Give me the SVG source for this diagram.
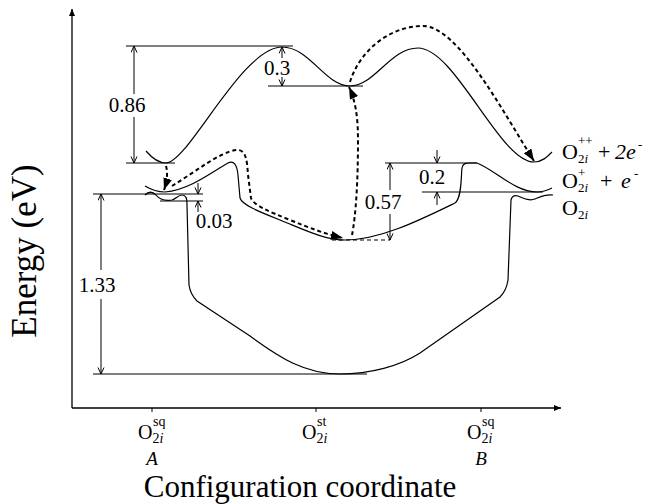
<svg xmlns="http://www.w3.org/2000/svg" width="650" height="504" viewBox="0 0 650 504">
<defs>
<style>
.c{fill:none;stroke:#000;stroke-width:1.2}
.d{fill:none;stroke:#000;stroke-width:1}
.t{fill:none;stroke:#000;stroke-width:2;stroke-dasharray:4 3}
.ax{fill:none;stroke:#000;stroke-width:1.3}
text{font-family:"Liberation Serif","Times New Roman",serif;fill:#000}
.lbl{font-size:21px}
.big{font-size:31px}
.ey{font-size:35px}
.st{font-size:22px}
.ss{font-size:13px}
.bt{font-size:20px}
.bs{font-size:14px}
.ab{font-size:19px;font-style:italic}
.it{font-style:italic}
</style>
<marker id="open" markerUnits="userSpaceOnUse" markerWidth="8" markerHeight="8" refX="7" refY="3.5" orient="auto">
<path d="M0.5,0.5 L7,3.5 L0.5,6.5" fill="none" stroke="#000" stroke-width="1"/>
</marker>
<marker id="solid" markerUnits="userSpaceOnUse" markerWidth="14" markerHeight="10" refX="12" refY="4.5" orient="auto">
<path d="M0,0 L12,4.5 L0,9 z" fill="#000"/>
</marker>
<marker id="axh" markerUnits="userSpaceOnUse" markerWidth="8" markerHeight="6" refX="7" refY="3" orient="auto">
<path d="M0,0 L7,3 L0,6 z" fill="#000"/>
</marker>
</defs>
<rect width="650" height="504" fill="#fff"/>

<g id="axes">
<line class="ax" x1="72" y1="408" x2="72" y2="9" marker-end="url(#axh)"/>
<line class="ax" x1="72" y1="408" x2="561" y2="408" marker-end="url(#axh)"/>
<line class="d" x1="152" y1="408" x2="152" y2="412"/>
<line class="d" x1="316" y1="408" x2="316" y2="412"/>
<line class="d" x1="481" y1="408" x2="481" y2="412"/>
<text class="ey" transform="translate(36,251) rotate(-90)" text-anchor="middle">Energy (eV)</text>
<text class="big" x="300" y="497" text-anchor="middle">Configuration coordinate</text>
</g>

<g id="tick-A">
<text class="bt" x="138" y="439">O</text>
<text class="bs" x="152.5" y="443">2<tspan class="it">i</tspan></text>
<text class="bs" x="153" y="426">sq</text>
<text class="ab" x="152" y="465" text-anchor="middle">A</text>
</g>
<g id="tick-st">
<text class="bt" x="302" y="439">O</text>
<text class="bs" x="316.5" y="443">2<tspan class="it">i</tspan></text>
<text class="bs" x="317" y="426">st</text>
</g>
<g id="tick-B">
<text class="bt" x="467" y="439">O</text>
<text class="bs" x="481.5" y="443">2<tspan class="it">i</tspan></text>
<text class="bs" x="482" y="426">sq</text>
<text class="ab" x="481" y="465" text-anchor="middle">B</text>
</g>

<g id="curve-O2i-pp">
<path class="c" d="M146,151 C152,158 158,163 166,163 C188,163 242,47 282,47 C310,47 325,86 350,86 C375,86 390,48 418,48 C455,48 500,162 534,162 C542,162 547,157 552,152"/>
<text class="st" x="562" y="159">O</text>
<text class="ss" x="578" y="163">2<tspan class="it">i</tspan></text>
<text class="ss" x="578" y="145">++</text>
<text class="st" x="598" y="159">+</text>
<text class="st it" x="615" y="159">2e</text>
<text class="ss" x="638" y="149">-</text>
</g>

<g id="curve-O2i-p">
<path class="c" d="M145,186 Q155,192 165,192 C190,190 215,170 228,163 C234,160 237,165 238,175 L240,198 C242,205 260,212 280,220 C305,230 325,240 345,240 C380,240 420,220 455,203 C462,198 461,175 462,168 C463,163 466,163 470,163 L477,163 C495,170 515,192 537,192 C544,192 548,190 552,188"/>
<text class="st" x="562" y="188">O</text>
<text class="ss" x="578" y="192">2<tspan class="it">i</tspan></text>
<text class="ss" x="578" y="177">+</text>
<text class="st" x="600" y="188">+</text>
<text class="st it" x="621" y="188">e</text>
<text class="ss" x="634" y="178">-</text>
</g>

<g id="curve-O2i">
<path class="c" d="M145,195 C148,192 152,191 156,195 C160,200 165,201 172,200 C176,199 178,195 182,195 C186,195 187,198 187,205 L189,285 C190,292 193,297 197,301 L250,336 C280,358 305,374 340,374 C370,374 400,366 420,353 L500,297 C505,292 507,287 508,280 L511,200 C512,196 514,195 518,196 C525,199 530,201 535,199 C540,197 545,194 553,195"/>
<text class="st" x="562" y="215">O</text>
<text class="ss" x="578" y="219">2<tspan class="it">i</tspan></text>
</g>

<g id="dimensions">
<line class="d" x1="126" y1="46" x2="293" y2="46"/>
<line class="d" x1="126" y1="163" x2="175" y2="163"/>
<line class="d" x1="134" y1="94" x2="134" y2="46" marker-end="url(#open)"/>
<line class="d" x1="134" y1="117" x2="134" y2="163" marker-end="url(#open)"/>
<text class="lbl" x="127" y="112" text-anchor="middle">0.86</text>

<line class="d" x1="282" y1="58" x2="282" y2="47" marker-end="url(#open)"/>
<line class="d" x1="282" y1="77" x2="282" y2="86" marker-end="url(#open)"/>
<line class="d" x1="268" y1="86" x2="363" y2="86"/>
<text class="lbl" x="277" y="75" text-anchor="middle">0.3</text>

<line class="d" x1="93" y1="194" x2="203" y2="194"/>
<line class="d" x1="160" y1="201" x2="203" y2="201"/>
<line class="d" x1="101" y1="270" x2="101" y2="194" marker-end="url(#open)"/>
<line class="d" x1="101" y1="299" x2="101" y2="374" marker-end="url(#open)"/>
<line class="d" x1="93" y1="374" x2="367" y2="374"/>
<text class="lbl" x="97" y="292" text-anchor="middle">1.33</text>

<line class="d" x1="198" y1="183" x2="198" y2="194" marker-end="url(#open)"/>
<line class="d" x1="198" y1="212" x2="198" y2="201" marker-end="url(#open)"/>
<text class="lbl" x="214" y="228" text-anchor="middle">0.03</text>

<line class="d" x1="385" y1="163" x2="477" y2="163"/>
<line class="d" x1="390" y1="190" x2="390" y2="163" marker-end="url(#open)"/>
<line class="d" x1="390" y1="214" x2="390" y2="240" marker-end="url(#open)"/>
<line class="d" x1="332" y1="240" x2="390" y2="240" stroke-dasharray="4 3"/>
<text class="lbl" x="383" y="209" text-anchor="middle">0.57</text>

<line class="d" x1="437" y1="150" x2="437" y2="163" marker-end="url(#open)"/>
<line class="d" x1="437" y1="205" x2="437" y2="192" marker-end="url(#open)"/>
<line class="d" x1="422" y1="192" x2="543" y2="192"/>
<text class="lbl" x="432" y="184" text-anchor="middle">0.2</text>
</g>

<g id="connectors">
<path class="t" d="M166,166 C168,173 167,181 164,190" marker-end="url(#solid)"/>
<path class="t" d="M172,186 C195,172 220,152 236,150 C246,149 247,160 248,175 L251,198 C253,205 270,212 290,220 C310,228 325,234 343,238" marker-end="url(#solid)"/>
<path class="t" d="M352,235 C356,215 358,180 358,140 C358,115 355,100 349,87" marker-end="url(#solid)"/>
<path class="t" d="M350,82 C360,50 390,26 423,26 C458,26 503,112 534,161" marker-end="url(#solid)"/>
</g>
</svg>
